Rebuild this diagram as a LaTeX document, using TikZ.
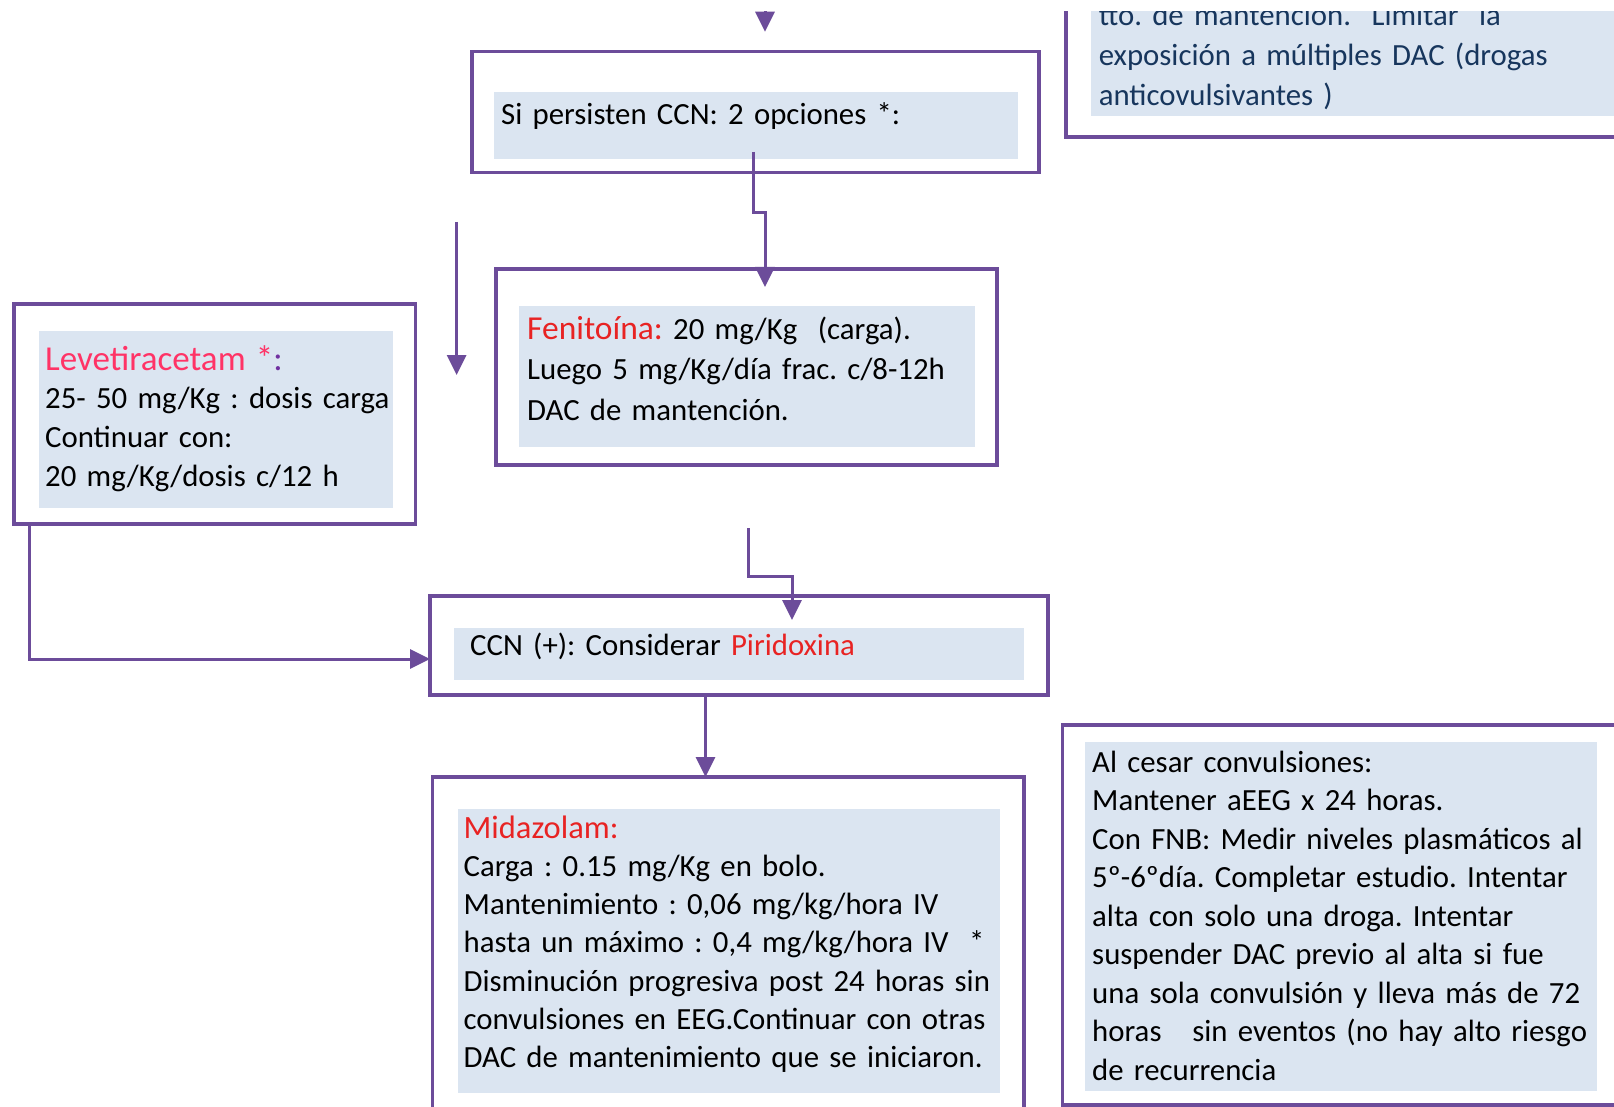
\documentclass[tikz,border=0pt]{standalone}
\usepackage{fontspec}
\setmainfont{Carlito}
\usetikzlibrary{arrows.meta,calc}
\definecolor{boxpurple}{RGB}{108,76,154}
\definecolor{boxblue}{RGB}{219,229,241}
\definecolor{drugred}{RGB}{232,35,35}
\definecolor{levpink}{RGB}{255,51,102}
\definecolor{colonpurple}{RGB}{112,48,160}
\definecolor{noteblue}{RGB}{23,54,93}
\newcommand{\bodysize}[1]{\fontsize{30.8}{#1}\selectfont\frenchspacing}
\tikzset{
	outerbox/.style={draw=boxpurple, line width=3.5pt, fill=white, inner sep=0pt, outer sep=0pt, anchor=north west},
	panel/.style={fill=boxblue, inner sep=0pt, outer sep=0pt, anchor=north west},
	txt/.style={anchor=base west, inner sep=0pt, text width=600pt, align=left},
	flow/.style={draw=boxpurple, line width=3pt, -{Triangle[length=20pt,width=19pt]}},
}

\begin{document}
\begin{tikzpicture}[x=1pt,y=-1pt]
			%%%%% START %%%%%
			\useasboundingbox (0,0) rectangle (1614,1107);
			\fill[white] (0,0) rectangle (1614,1107);
			\begin{scope}
			\clip (0,12) rectangle (1614,1107);
			
			%% boxes
			\node[outerbox, minimum width=567pt, minimum height=121pt] (persist) at (472,51.7) {};
			\node[panel, minimum width=524pt, minimum height=67.3pt] (persistfill) at (494,91.7) {};
			
			\node[outerbox, minimum width=401.5pt, minimum height=220pt] (lev) at (14,304) {};
			\node[panel, minimum width=354.4pt, minimum height=177pt] (levfill) at (38.6,331) {};
			
			\node[outerbox, minimum width=501pt, minimum height=196pt] (fenit) at (496,269) {};
			\node[panel, minimum width=455.5pt, minimum height=141pt] (fenitfill) at (519,306) {};
			
			\node[outerbox, minimum width=618pt, minimum height=99pt] (ccn) at (430,596) {};
			\node[panel, minimum width=570pt, minimum height=52pt] (ccnfill) at (454,628) {};
			
			\node[outerbox, minimum width=591.4pt, minimum height=360pt] (mid) at (432.6,777) {};
			\node[panel, minimum width=542.4pt, minimum height=284pt] (midfill) at (457.6,809) {};
			
			\node[outerbox, minimum width=600pt, minimum height=380pt] (cese) at (1062.6,725) {};
			\node[panel, minimum width=512pt, minimum height=349pt] (cesefill) at (1085,742) {};
			
			\node[outerbox, minimum width=600pt, minimum height=197pt] (note) at (1066,-60) {};
			\node[panel, minimum width=560pt, minimum height=156pt] (notefill) at (1091,-40) {};
			
			%% texts
			\node[txt, font={\bodysize{38.5}}] (persisttxt) at (501,125) {Si persisten CCN: 2 opciones *:};
			
			\node[txt, font={\bodysize{38.7}}] (levtxt) at (45,370) {{\fontsize{35}{38.7}\selectfont\color{levpink}Levetiracetam *\color{colonpurple}:}\\
				25- 50 mg/Kg : dosis carga\\
				Continuar con:\\
				20 mg/Kg/dosis c/12 h};
			
			\node[txt, font={\bodysize{40.5}}] (fenittxt) at (527,339) {{\fontsize{33.5}{40.5}\selectfont\color{drugred}Fenitoína:} 20 mg/Kg\ \ (carga).\\
				Luego 5 mg/Kg/día frac. c/8-12h\\
				DAC de mantención.};
			
			\node[txt, font={\bodysize{38.5}}] (ccntxt) at (470,655) {CCN (+): Considerar {\color{drugred}Piridoxina}};
			
			\node[txt, font={\bodysize{38.3}}] (midtxt) at (463.5,838) {{\fontsize{32.5}{38.3}\selectfont\color{drugred}Midazolam:}\\
				Carga : 0.15 mg/Kg en bolo.\\
				Mantenimiento : 0,06 mg/kg/hora IV\\
				hasta un máximo : 0,4 mg/kg/hora IV\ \ *\\
				Disminución progresiva post 24 horas sin\\
				convulsiones en EEG.Continuar con otras\\
				DAC de mantenimiento que se iniciaron.};
			
			\node[txt, font={\bodysize{38.5}}] (cesetxt) at (1092,772) {Al cesar convulsiones:\\
				Mantener aEEG x 24 horas.\\
				Con FNB: Medir niveles plasmáticos al\\
				5º-6ºdía. Completar estudio. Intentar\\
				alta con solo una droga. Intentar\\
				suspender DAC previo al alta si fue\\
				una sola convulsión y lleva más de 72\\
				horas\ \ \ sin eventos (no hay alto riesgo\\
				de recurrencia};
			
			\node[txt, font={\bodysize{40}}, text=noteblue] (notetxt) at (1098.6,26) {tto. de mantención.\ \ Limitar\ \ la\\
				exposición a múltiples DAC (drogas\\
				anticovulsivantes )};
			
			%% connectors
			\coordinate (topin) at (765,-10);
			\coordinate (sidetop) at (456.6,222);
			\coordinate (sidetip) at (456.6,375);
			\coordinate (ccnout) at ([xshift=-33.5pt]ccn.south);
			
			\draw[flow] (topin) -- ([xshift=9.5pt,yshift=20pt]persist.north);
			\draw[flow] ([xshift=-3pt,yshift=7pt]persistfill.south) -- ++(0,61) -| ([xshift=18.5pt,yshift=-18pt]fenit.north);
			\draw[flow] (sidetop) -- (sidetip);
			\draw[flow] ([xshift=2pt,yshift=-63pt]fenit.south) -- ++(0,48) -| ([xshift=53pt,yshift=-24pt]ccn.north);
			\draw[flow] ([xshift=-185.75pt]lev.south) |- ([yshift=-13.5pt]ccn.west);
			\draw[flow] (ccnout) -- (ccnout |- mid.north);
			\end{scope}
			%%%%% END %%%%%
\end{tikzpicture}
\end{document}
